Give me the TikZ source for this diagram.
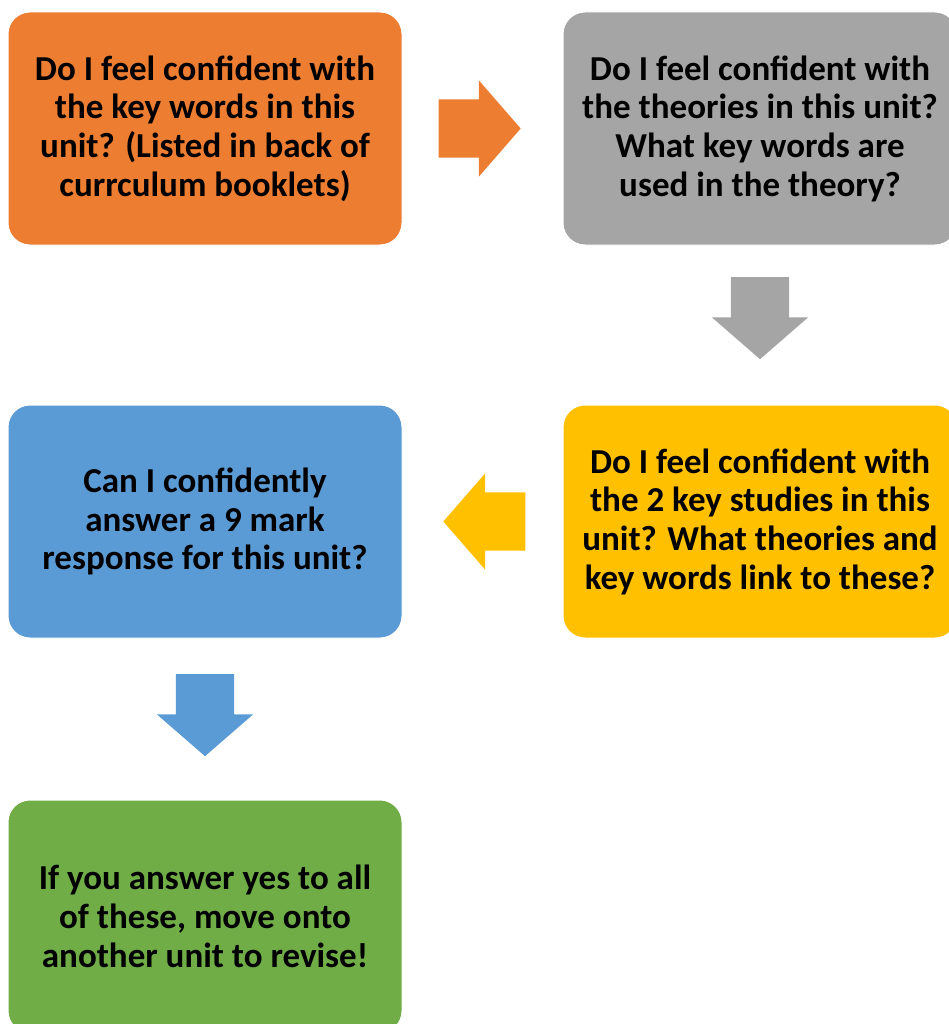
\documentclass[tikz,border=0pt]{standalone}
\usepackage{fontspec}
\setmainfont{Carlito}
\usetikzlibrary{positioning,shapes.arrows}

\definecolor{boxorange}{HTML}{ED7D31}
\definecolor{boxgray}{HTML}{A5A5A5}
\definecolor{boxyellow}{HTML}{FFC000}
\definecolor{boxblue}{HTML}{5B9BD5}
\definecolor{boxgreen}{HTML}{70AD47}

\begin{document}
\begin{tikzpicture}[x=1pt,y=1pt,node distance=393pt,on grid,
  box/.style={rectangle,rounded corners=22pt,minimum width=394pt,minimum height=233pt,
    draw=white,line width=1pt,align=center,font=\fontsize{35}{38.7}\selectfont\bfseries},
  flow/.style={single arrow,single arrow head extend=19pt,single arrow tip angle=98,
    minimum height=82pt,inner xsep=0pt,inner ysep=29pt}]
 \useasboundingbox (0,0) rectangle (949,-1024);
 \node[box,fill=boxorange] (words) at (205,-128.5) {Do I feel confident with\\the key words in this\\unit? (Listed in back of\\currculum booklets)};
 \node[box,fill=boxgray] (theories)[right=555pt of words] {Do I feel confident with\\the theories in this unit?\\What key words are\\used in the theory?};
 \node[box,fill=boxyellow] (studies)[below=of theories] {Do I feel confident with\\the 2 key studies in this\\unit? What theories and\\key words link to these?};
 \node[box,fill=boxblue] (answer)[left=555pt of studies] {Can I confidently\\answer a 9 mark\\response for this unit?};
 \node[box,fill=boxgreen] (next)[below=395pt of answer] {If you answer yes to all\\of these, move onto\\another unit to revise!};
 % block arrows between the boxes
 \node[flow,fill=boxorange] (a_1)[right=262pt of words] {};
 \node[flow,fill=boxgray,rotate=-90] (a_2)[below=182pt of theories,xshift=-5pt] {};
 \node[flow,fill=boxyellow,rotate=180] (a_3)[left=263pt of studies] {};
 \node[flow,fill=boxblue,rotate=-90] (a_4)[below=181pt of answer] {};
\end{tikzpicture}
\end{document}
